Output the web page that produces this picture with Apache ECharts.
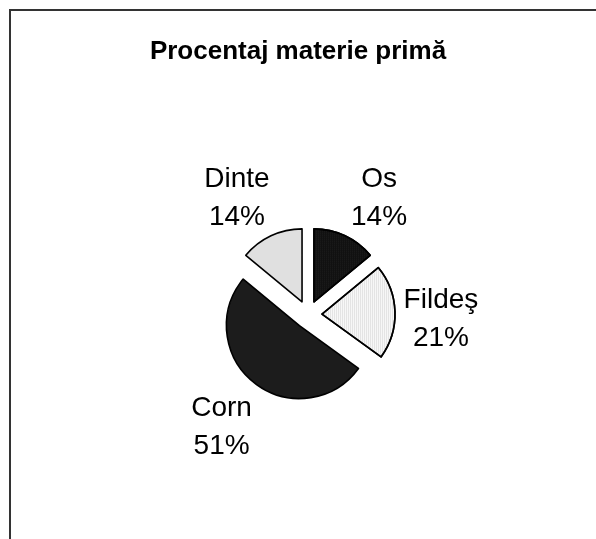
<!DOCTYPE html>
<html>
<head>
<meta charset="utf-8">
<script src="https://cdn.jsdelivr.net/npm/echarts@6/dist/echarts.min.js"></script>
<style>
html,body{margin:0;padding:0;background:#fff;}
#chart{width:596px;height:539px;}
</style>
</head>
<body>
<div id="chart"></div>
<script>
const titleText = 'Procentaj materie primă';
const categories = ['Os', 'Fildeş', 'Corn', 'Dinte'];
const percents = [14, 21, 51, 14];

const sliceColors = ['#111111', '#f7f7f7', '#1c1c1c', '#e0e0e0'];
const labelShift = [[11, 11], [-8, 9], [0, 1], [-11, 11]];

const FONT = 'Liberation Sans, Arial, sans-serif';
const chart = echarts.init(document.getElementById('chart'), null, {renderer: 'canvas'});

const decals = [
  {symbol: 'rect', symbolSize: 1, color: 'rgba(80,80,80,0.22)', dashArrayX: [1, 1], dashArrayY: [1, 1], rotation: 0},
  {symbol: 'rect', symbolSize: 1, color: 'rgba(170,170,170,0.25)', dashArrayX: [1, 1], dashArrayY: [2, 0], rotation: 0},
  null,
  null
];

const pieData = categories.map((name, i) => {
  const itemStyle = {color: sliceColors[i]};
  if (decals[i]) itemStyle.decal = decals[i];
  return {name: name, value: percents[i], selected: true, itemStyle: itemStyle};
});

const labelData = categories.map((name, i) => ({
  name: name,
  value: percents[i],
  label: {offset: labelShift[i]}
}));

chart.setOption({
  backgroundColor: '#ffffff',
  animation: false,
  title: {
    text: titleText,
    left: 'center',
    top: 34,
    textStyle: {fontFamily: FONT, fontSize: 26, fontWeight: 'bold', color: '#000'}
  },
  graphic: [{
    type: 'rect',
    shape: {x: 10, y: 10, width: 700, height: 700},
    style: {fill: 'none', stroke: '#333', lineWidth: 2},
    silent: true
  }],
  series: [
    {
      type: 'pie',
      center: [308, 314.5],
      radius: [0, 73],
      startAngle: 90,
      clockwise: true,
      selectedMode: 'multiple',
      selectedOffset: 14,
      avoidLabelOverlap: false,
      label: {show: false},
      labelLine: {show: false},
      itemStyle: {borderColor: '#000', borderWidth: 1.6},
      emphasis: {disabled: true},
      select: {itemStyle: {borderColor: '#000', borderWidth: 1.6}},
      data: pieData
    },
    {
      type: 'pie',
      center: [308, 314.5],
      radius: [118, 158],
      startAngle: 90,
      clockwise: true,
      silent: true,
      avoidLabelOverlap: false,
      itemStyle: {color: 'rgba(0,0,0,0)', borderWidth: 0},
      labelLine: {show: false},
      label: {
        show: true,
        position: 'inside',
        rotate: 0,
        formatter: '{b}\n{c}%',
        fontFamily: FONT,
        fontSize: 28,
        lineHeight: 38,
        color: '#000',
        align: 'center'
      },
      emphasis: {disabled: true},
      data: labelData
    }
  ]
});
</script>
</body>
</html>
